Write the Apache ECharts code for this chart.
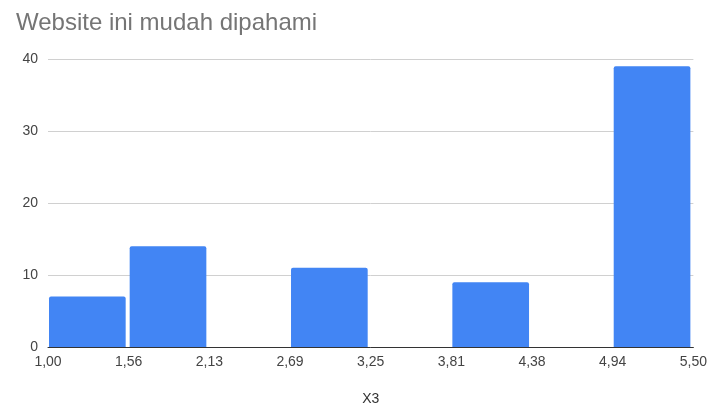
<!DOCTYPE html>
<html><head><meta charset="utf-8">
<script src="https://cdn.jsdelivr.net/npm/echarts@6/dist/echarts.min.js"></script>
<style>html,body{margin:0;padding:0;background:#fff}#c{width:710px;height:411px}</style>
</head><body><div id="c"></div>
<script>
var binEdges = ['1,00','1,56','2,13','2,69','3,25','3,81','4,38','4,94','5,50'];
var counts = [7, 14, 0, 11, 0, 9, 0, 39];
var yTicks = [0, 10, 20, 30, 40];

var chart = echarts.init(document.getElementById('c'));
var data = counts.map(function(v, i){ return [i, i + 1, v]; });
var FONT = '"Liberation Sans", Arial, sans-serif';
chart.setOption({
  animation: false,
  title: { text: 'Website ini mudah dipahami', left: 11, top: 6,
    textStyle: { fontFamily: FONT, fontSize: 24, fontWeight: 'normal', color: '#757575' } },
  grid: { left: 48, right: 15, top: 59, bottom: 64 },
  xAxis: { type: 'value', min: 0, max: 8, interval: 1,
    name: 'X3', nameLocation: 'middle', nameGap: 45,
    nameTextStyle: { fontFamily: FONT, fontSize: 14, color: '#333' },
    axisLine: { show: true, lineStyle: { color: '#333', width: 1 } },
    axisTick: { show: false }, splitLine: { show: false },
    axisLabel: { fontFamily: FONT, fontSize: 14, color: '#444', margin: 8,
      formatter: function(v){ return binEdges[Math.round(v)]; } } },
  yAxis: { type: 'value', min: yTicks[0], max: yTicks[yTicks.length-1], interval: 10,
    axisLine: { show: false }, axisTick: { show: false },
    splitLine: { lineStyle: { color: '#d0d0d0' } },
    axisLabel: { fontFamily: FONT, fontSize: 14, color: '#444', margin: 10 } },
  series: [{
    type: 'custom',
    data: data,
    encode: { x: [0, 1], y: 2 },
    renderItem: function(params, api){
      var v = api.value(2);
      if (!v) return null;
      var p0 = api.coord([api.value(0), 0]);
      var p1 = api.coord([api.value(1), v]);
      return { type: 'rect',
        shape: { x: p0[0] + 1, y: p1[1], width: p1[0] - p0[0] - 4, height: p0[1] - p1[1], r: [2,2,0,0] },
        style: { fill: '#4285F4' } };
    }
  }]
});
</script></body></html>
